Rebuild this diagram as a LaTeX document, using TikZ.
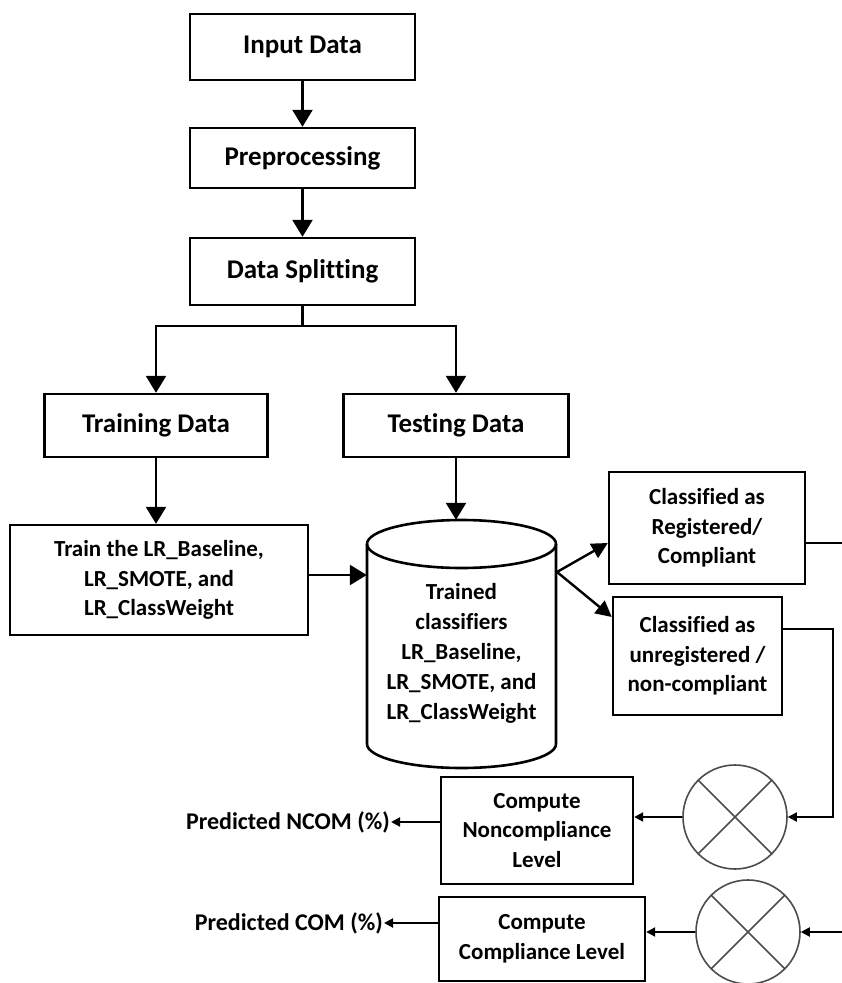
\documentclass[tikz,border=0pt]{standalone}
\usepackage{fontspec}
\setmainfont{Carlito}[Ligatures=NoCommon]
\usetikzlibrary{arrows.meta,calc}
\tikzset{
  box/.style={draw=black, line width=2.4pt, rectangle, inner sep=0pt, align=center, font=\bfseries\fontsize{23}{29.5}\selectfont},
  bigbox/.style={box, font=\bfseries\fontsize{27}{32}\selectfont},
  mult/.style={draw=black!70, line width=1.6pt, circle, minimum size=104pt, inner sep=0pt},
  conn/.style={draw=black, line width=2.4pt},
  bigarr/.style={conn, -{Triangle[length=17pt,width=20pt]}},
  midarr/.style={conn, -{Triangle[length=16pt,width=16pt]}},
  smallarr/.style={draw=black, line width=2pt, -{Triangle[length=9pt,width=9pt]}},
  lbl/.style={inner sep=1pt, font=\bfseries\fontsize{24}{29.5}\selectfont}
}
\begin{document}
\begin{tikzpicture}[x=1pt,y=-1pt]
\useasboundingbox (0,0) rectangle (842,983);
% boxes
\node[bigbox, minimum width=225pt, minimum height=66pt] (in) at (302.5,47) {Input Data};
\node[bigbox, minimum width=225pt, minimum height=60pt] (pre) at (302.5,158) {Preprocessing};
\node[bigbox, minimum width=225pt, minimum height=67pt] (ds) at (302.5,271.5) {Data Splitting};
\node[bigbox, minimum width=223pt, minimum height=63pt] (trd) at (156,425.5) {Training Data};
\node[bigbox, minimum width=225pt, minimum height=63pt] (ted) at (456,425.5) {Testing Data};
\node[box, minimum width=298pt, minimum height=110pt] (tr) at (159,580) {Train the LR\_Baseline,\\LR\_SMOTE, and\\LR\_ClassWeight};
% cylinder
\node[inner sep=0pt, minimum width=189pt, minimum height=248pt] (cyl) at (461.5,644) {};
\draw[line width=2.6pt] (367,544) -- (367,744) arc[start angle=180, end angle=0, x radius=94.5, y radius=24] -- (556,544);
\draw[line width=2.6pt] (461.5,544) ellipse [x radius=94.5, y radius=24];
\node[inner sep=0pt, align=center, font=\bfseries\fontsize{23}{30}\selectfont] (cyltxt) at (461.5,653) {Trained\\classifiers\\LR\_Baseline,\\LR\_SMOTE, and\\LR\_ClassWeight};
\node[box, minimum width=196pt, minimum height=112pt] (reg) at (707,528) {Classified as\\Registered/\\Compliant};
\node[box, minimum width=169pt, minimum height=118pt] (unr) at (697.5,656) {Classified as\\unregistered /\\non-compliant};
\node[mult] (c1) at (735,817) {};
\draw[draw=black!70, line width=1.6pt] (c1.north west) -- (c1.south east) (c1.north east) -- (c1.south west);
\node[mult] (c2) at (748,932) {};
\draw[draw=black!70, line width=1.6pt] (c2.north west) -- (c2.south east) (c2.north east) -- (c2.south west);
\node[box, minimum width=192pt, minimum height=107pt] (ncom) at (537,830.5) {Compute\\Noncompliance\\Level};
\node[box, minimum width=206pt, minimum height=84pt] (com) at (542,939) {Compute\\Compliance Level};
\node[lbl, anchor=east] (nt) at (391,822) {Predicted NCOM (\%)};
\node[lbl, anchor=east] (ct) at (384,923) {Predicted COM (\%)};
\coordinate (split) at (302.5,326);
\coordinate (cs) at (557,572);
\coordinate (r1) at (842,543);
\coordinate (r2) at (842,932);
% connectors
\draw[bigarr] (in) -- (pre);
\draw[bigarr] (pre) -- (ds);
\draw[conn] (ds.south) -- (split);
\draw[bigarr] (split) -| (trd.north);
\draw[bigarr] (split) -| (ted.north);
\draw[bigarr] (trd.south) -- (trd.south |- tr.north);
\draw[bigarr] (ted.south) -- (ted.south |- cyl.north);
\draw[bigarr] ($(tr.east)+(0,-5)$) -- ($(tr.east -| cyl.west)+(0,-5)$);
\draw[midarr] (cs) -- ($(reg.west)+(0,15)$);
\draw[midarr] (cs) -- ($(unr.west)+(0,-39)$);
\draw[conn, line width=2pt] ($(reg.east)+(0,15)$) -- (r1);
\draw[smallarr] ($(unr.east)+(0,-27)$) -| ($(c1.east)+(45,0)$) -- (c1.east);
\draw[smallarr] (c1.west) -- (c1.west -| ncom.east);
\draw[smallarr] (ncom.west |- nt.east) -- (nt.east);
\draw[smallarr] (r2) -- (c2.east);
\draw[smallarr] (c2.west) -- (c2.west -| com.east);
\draw[smallarr] (com.west |- ct.east) -- (ct.east);
\end{tikzpicture}
\end{document}
